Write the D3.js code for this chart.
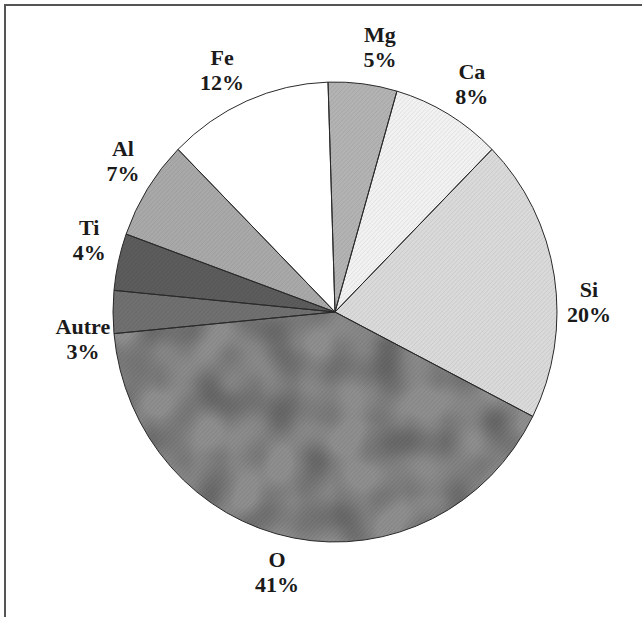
<!DOCTYPE html>
<html>
<head>
<meta charset="utf-8">
<script src="https://cdn.jsdelivr.net/npm/d3@7"></script>
<style>
  body { margin: 0; background: #fff; }
  svg { display: block; }
</style>
</head>
<body>
<div id="chart"></div>
<script>
// element shares (%), clockwise from 12 o'clock
const elements = ["Mg", "Ca", "Si", "O", "Autre", "Ti", "Al", "Fe"];
const shares = [5, 8, 20, 41, 3, 4, 7, 12];
const grays = ["#b3b3b3", "#f2f2f2", "#dadada", "#8e8e8e", "#707070", "#5c5c5c", "#a9a9a9", "#ffffff"];

const width = 642, height = 617;
const cx = 335, cy = 312;
const rx = 222, ry = 230; // scanned pie is a little taller than wide

// labels were nudged by hand in the original (degrees / px)
const labelNudge = { Fe: -3, Mg: 3, Ca: 2, Si: 8, O: 2, Autre: -7, Ti: 2, Al: 1 };
const labelPush = { O: 8 };
const labelRx = 254, labelRy = 264, labelDy = 2;

const data = elements.map((name, i) => ({ name, value: shares[i], fill: grays[i] }));

const svg = d3
  .select("#chart")
  .append("svg")
  .attr("width", width)
  .attr("height", height);

// fine halftone-ish texture
const defs = svg.append("defs");
const hatch = defs
  .append("pattern")
  .attr("id", "hatch")
  .attr("width", 3)
  .attr("height", 3)
  .attr("patternUnits", "userSpaceOnUse")
  .attr("patternTransform", "rotate(45)");
hatch
  .append("line")
  .attr("x1", 0).attr("y1", 0).attr("x2", 0).attr("y2", 3)
  .attr("stroke", "#000")
  .attr("stroke-opacity", 0.1)
  .attr("stroke-width", 1);

// soft blotches on the O slice
const blotch = defs.append("filter").attr("id", "blotch").attr("x", 0).attr("y", 0).attr("width", 1).attr("height", 1);
blotch
  .append("feTurbulence")
  .attr("type", "fractalNoise")
  .attr("baseFrequency", 0.028)
  .attr("numOctaves", 1)
  .attr("seed", 5)
  .attr("result", "noise");
blotch
  .append("feColorMatrix")
  .attr("in", "noise")
  .attr("type", "matrix")
  .attr("values", "0 0 0 0 0  0 0 0 0 0  0 0 0 0 0  0 0 0 0.7 -0.25")
  .attr("result", "shade");
blotch.append("feComposite").attr("in", "shade").attr("in2", "SourceGraphic").attr("operator", "in");

// frame (only top and left edges are visible in the scan)
svg
  .append("path")
  .attr("d", d3.line()([[5, height], [5, 5], [width, 5]]))
  .attr("fill", "none")
  .attr("stroke", "#555")
  .attr("stroke-width", 2);

const deg = Math.PI / 180;
const pie = d3
  .pie()
  .sort(null)
  .value((d) => d.value)
  .startAngle(-1.8 * deg)
  .endAngle(358.2 * deg);

const arcs = pie(data);
const arc = d3.arc().innerRadius(0).outerRadius(rx);

const g = svg
  .append("g")
  .attr("transform", `translate(${cx},${cy}) scale(1,${ry / rx})`);

g.selectAll("path.slice")
  .data(arcs)
  .join("path")
  .attr("class", "slice")
  .attr("d", arc)
  .attr("fill", (d) => d.data.fill);

// texture overlays
g.selectAll("path.tex")
  .data(arcs.filter((d) => d.data.name != "Fe"))
  .join("path")
  .attr("class", "tex")
  .attr("d", arc)
  .attr("fill", "url(#hatch)");

g.selectAll("path.blot")
  .data(arcs.filter((d) => d.data.name == "O"))
  .join("path")
  .attr("class", "blot")
  .attr("d", arc)
  .attr("fill", "#000")
  .attr("filter", "url(#blotch)");

g.selectAll("path.edge")
  .data(arcs)
  .join("path")
  .attr("class", "edge")
  .attr("d", arc)
  .attr("fill", "none")
  .attr("stroke", "#2a2a2a")
  .attr("stroke-width", 1)
  .attr("vector-effect", "non-scaling-stroke");

// labels
const labels = svg
  .selectAll("g.lab")
  .data(arcs)
  .join("g")
  .attr("class", "lab")
  .attr("font-family", "'Liberation Serif', 'Times New Roman', Times, serif")
  .attr("font-weight", 700)
  .attr("font-size", 22)
  .attr("fill", "#1a1a1a")
  .attr("text-anchor", "middle")
  .attr("transform", (d) => {
    const a = (d.startAngle + d.endAngle) / 2 + (labelNudge[d.data.name] || 0) * deg;
    const push = labelPush[d.data.name] || 0;
    const x = cx + Math.sin(a) * (labelRx + push);
    const y = cy + labelDy - Math.cos(a) * (labelRy + push);
    return `translate(${x},${y})`;
  });

labels
  .append("text")
  .attr("y", -12.5)
  .text((d) => d.data.name);

labels
  .append("text")
  .attr("y", 12.5)
  .text((d) => d.data.value + "%");
</script>
</body>
</html>
